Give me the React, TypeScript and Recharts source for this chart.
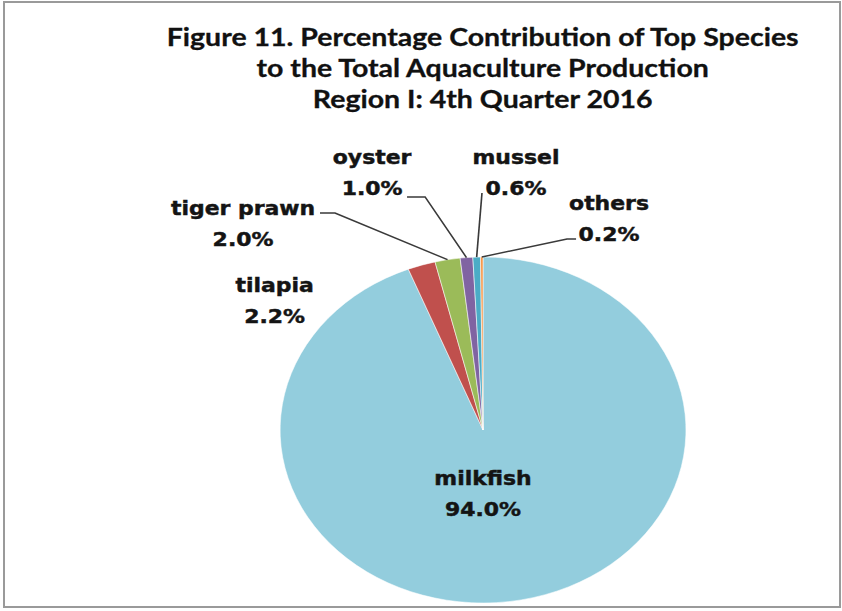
import React from 'react';
import { PieChart, Pie, Cell } from 'recharts';

// ---------- data ----------
const species = ['milkfish', 'tilapia', 'tiger prawn', 'oyster', 'mussel', 'others'];
const shares = [94.0, 2.2, 2.0, 1.0, 0.6, 0.2];
const percentLabels = ['94.0%', '2.2%', '2.0%', '1.0%', '0.6%', '0.2%'];
const titleLines = [
  'Figure 11. Percentage Contribution of Top Species',
  'to the Total Aquaculture Production',
  'Region I: 4th Quarter 2016',
];

// ---------- styles / layout ----------
const colors = ['#93CDDD', '#C0504D', '#9BBB59', '#8064A2', '#4BACC6', '#F79646'];
const STRETCH = 1.173; // the reference picture is stretched horizontally
const W = 842 / STRETCH;
const H = 611;
const CX = 411.8;
const CY = 430;
const R = 173;

// label placement relative to pie centre (unstretched units)
type LL = { dx: number; nameDy: number; pctDy: number; line?: number[][] };
const labelLayout: LL[] = [
  { dx: 0, nameDy: 55, pctDy: 86 },
  { dx: -177.7, nameDy: -138.3, pctDy: -107.3 },
  { dx: -204.6, nameDy: -215, pctDy: -184, line: [[-139, -217], [-126.2, -217]] },
  { dx: -94.6, nameDy: -266, pctDy: -235, line: [[-64.8, -233], [-49.4, -233]] },
  { dx: 28.1, nameDy: -266, pctDy: -235, line: [[-0.9, -237]] },
  { dx: 107.4, nameDy: -219.5, pctDy: -188.5, line: [[79.3, -191], [71.6, -191]] },
];

const data = species.map((name, i) => ({ name, value: shares[i], pct: percentLabels[i] }));

const LABEL_FONT = '"DejaVu Sans", Verdana, sans-serif';
const TITLE_FONT = 'Lato, "Open Sans", sans-serif';

const RAD = Math.PI / 180;

const renderLabel = (props: any) => {
  const { cx, cy, midAngle, outerRadius, index } = props;
  const l = labelLayout[index];
  const x = cx + l.dx;
  let path: string | null = null;
  if (l.line) {
    const ex = cx + outerRadius * Math.cos(-midAngle * RAD);
    const ey = cy + outerRadius * Math.sin(-midAngle * RAD);
    const pts = l.line.map((p) => [cx + p[0], cy + p[1]]);
    path = 'M' + pts.map((p) => p[0] + ',' + p[1]).join(' L') + ` L${ex},${ey}`;
  }
  const textProps = {
    textAnchor: 'middle' as const,
    fontFamily: LABEL_FONT,
    fontWeight: 'bold',
    fontSize: 18.7,
    fill: '#141414',
    stroke: '#141414',
    strokeWidth: 0.45,
  };
  return (
    <g key={`lbl-${index}`}>
      {path && <path d={path} fill="none" stroke="#3a3a3a" strokeWidth={1.4} />}
      <text x={x} y={cy + l.nameDy} {...textProps}>
        {props.name}
      </text>
      <text x={x} y={cy + l.pctDy} {...textProps}>
        {data[index].pct}
      </text>
    </g>
  );
};

export default function App() {
  return (
    <div style={{ position: 'fixed', left: 0, top: 0, width: 842, height: 611, background: '#fff', overflow: 'hidden' }}>
      <div
        style={{
          position: 'absolute',
          left: 0,
          top: 0,
          width: W,
          height: H,
          transform: `scaleX(${STRETCH})`,
          transformOrigin: '0 0',
        }}
      >
        <svg width={W} height={130} style={{ position: 'absolute', left: 0, top: 0 }}>
          {titleLines.map((t, i) => (
            <text
              key={i}
              x={411.5}
              y={46.5 + i * 31}
              textAnchor="middle"
              fontFamily={TITLE_FONT}
              fontWeight="bold"
              fontSize={24.3}
              fill="#111"
              stroke="#111"
              strokeWidth={0.3}
            >
              {t}
            </text>
          ))}
        </svg>
        <div style={{ position: 'absolute', left: 0, top: 0 }}>
          <PieChart width={W} height={H} margin={{ top: 0, right: 0, bottom: 0, left: 0 }}>
            <Pie
              data={data}
              dataKey="value"
              nameKey="name"
              cx={CX}
              cy={CY}
              outerRadius={R}
              startAngle={90}
              endAngle={-270}
              stroke="#ffffff"
              strokeWidth={0.5}
              isAnimationActive={false}
              labelLine={false}
              label={renderLabel}
            >
              {data.map((d, i) => (
                <Cell key={d.name} fill={colors[i]} />
              ))}
            </Pie>
          </PieChart>
        </div>
      </div>
      <div
        style={{
          position: 'absolute',
          left: 3,
          top: 1,
          width: 838,
          height: 607,
          border: '2px solid #9a9a9a',
          boxSizing: 'border-box',
          pointerEvents: 'none',
        }}
      />
    </div>
  );
}
